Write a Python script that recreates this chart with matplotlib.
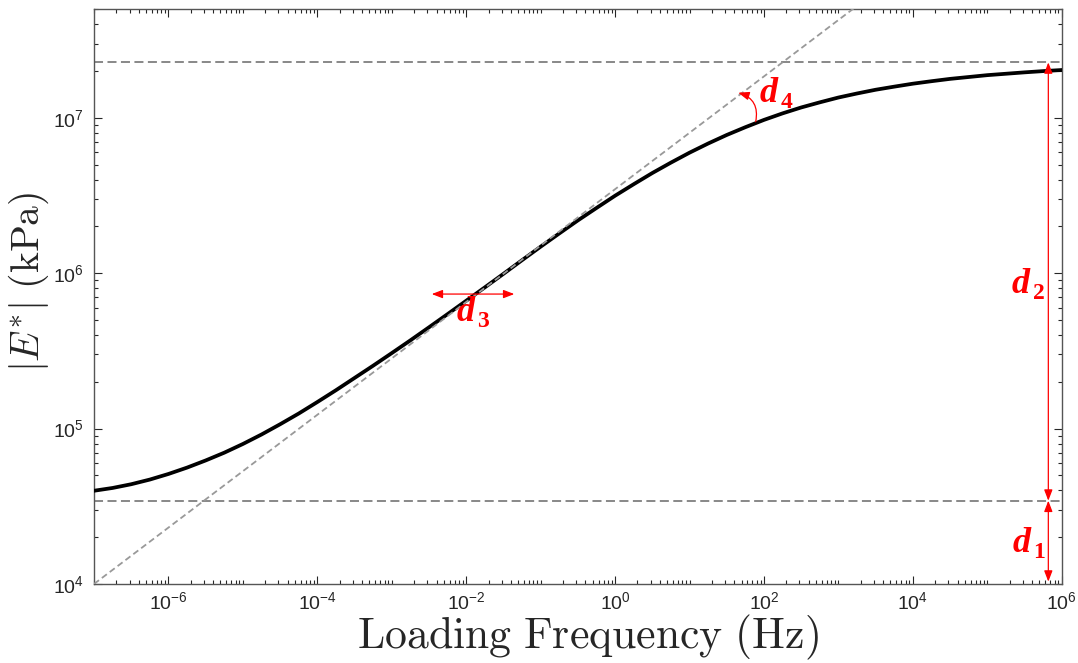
import numpy as np
import matplotlib
matplotlib.use("Agg")
import matplotlib.pyplot as plt
from matplotlib.ticker import FixedLocator, LogLocator, LogFormatterSciNotation, NullFormatter

# ---------------- data ----------------
log_freq = np.linspace(-7.0, 6.0, 53)          # quarter-decade reading grid
log_modulus = [4.600, 4.618, 4.642, 4.672, 4.708, 4.749, 4.795, 4.845, 4.901,
               4.962, 5.028, 5.097, 5.171, 5.247, 5.326, 5.405, 5.486, 5.568,
               5.652, 5.737, 5.823, 5.909, 5.996, 6.084, 6.171, 6.256, 6.340,
               6.420, 6.499, 6.573, 6.645, 6.712, 6.776, 6.835, 6.890, 6.940,
               6.987, 7.029, 7.067, 7.100, 7.131, 7.157, 7.181, 7.201, 7.220,
               7.236, 7.251, 7.263, 7.275, 7.284, 7.293, 7.301, 7.308]
lower_asym = 10 ** 4.536      # d1 level (kPa)
upper_asym = 10 ** 7.357      # d1 + d2 level (kPa)
tangent_f = [1e-7, 1e6]
tangent_E = [1e4, 10 ** (4 + 0.363 * 13)]

x_ticks = [1e-6, 1e-4, 1e-2, 1e0, 1e2, 1e4, 1e6]
y_ticks = [1e4, 1e5, 1e6, 1e7]

d_arrow_f = 10 ** 5.82                        # x of d1/d2 arrows
d1_span = [10 ** 4.536, 10 ** 4.015]
d2_span = [10 ** 4.536, 10 ** 7.357]
d3_span = [10 ** -2.463, 10 ** -1.354]
d3_level = 10 ** 5.866
d4_start = (10 ** 1.889, 10 ** 6.975)
d4_end = (10 ** 1.655, 10 ** 7.162)

# (log f, log E) of the letter d (left, baseline) for each parameter label
label_subs = ["1", "2", "3", "4"]
label_logf = [5.346, 5.332, -2.124, 1.947]
label_logE = [4.206, 5.873, 5.692, 7.102]

# ---------------- styling ----------------
plt.rcParams['font.family'] = ['Liberation Sans', 'DejaVu Sans']
plt.rcParams['mathtext.fontset'] = 'custom'
plt.rcParams['mathtext.rm'] = 'Liberation Sans'
plt.rcParams['mathtext.it'] = 'Liberation Sans:italic'
plt.rcParams['mathtext.bf'] = 'Liberation Sans:bold'
plt.rcParams['lines.scale_dashes'] = False

fig = plt.figure(figsize=(10.78, 6.63), dpi=100)
ax = fig.add_axes([0.0872, 0.1192, 0.8977, 0.8668])
ax.set_xscale('log')
ax.set_yscale('log')
ax.set_xlim(1e-7, 1e6)
ax.set_ylim(1e4, 5e7)

freq = [10 ** v for v in log_freq]
modulus = [10 ** v for v in log_modulus]

ax.axhline(upper_asym, color='#7f7f7f', lw=1.3, dashes=(6.5, 3.2), zorder=2)
ax.axhline(lower_asym, color='#7f7f7f', lw=1.3, dashes=(6.5, 3.2), zorder=2)
ax.plot(freq, modulus, color='black', lw=2.7, zorder=3, solid_joinstyle='round')
ax.plot(tangent_f, tangent_E, color='#999999', lw=1.3, dashes=(4.5, 2.6), zorder=4)

red = '#ff0000'
arrow_kw = dict(arrowstyle='<|-|>,head_length=0.65,head_width=0.25', color=red,
                lw=0.9, shrinkA=0, shrinkB=0)
ax.annotate('', xy=(d_arrow_f, d2_span[1]), xytext=(d_arrow_f, d2_span[0]),
            arrowprops=arrow_kw, zorder=5)
ax.annotate('', xy=(d_arrow_f, d1_span[1]), xytext=(d_arrow_f, d1_span[0]),
            arrowprops=arrow_kw, zorder=5)
ax.annotate('', xy=(d3_span[1], d3_level), xytext=(d3_span[0], d3_level),
            arrowprops=arrow_kw, zorder=5)
ax.annotate('', xy=d4_end, xytext=d4_start,
            arrowprops=dict(arrowstyle='-|>,head_length=0.65,head_width=0.25',
                            color=red, lw=0.9, shrinkA=0, shrinkB=0,
                            connectionstyle='arc3,rad=0.45'), zorder=5)

for sub, lf, le in zip(label_subs, label_logf, label_logE):
    pos = (10 ** lf, 10 ** le)
    ax.text(pos[0], pos[1], 'd', color=red, fontsize=26, fontfamily='Liberation Serif',
            fontweight='bold', fontstyle='italic', ha='left', va='baseline', zorder=6)
    ax.annotate(sub, xy=pos, xytext=(14.8, -4.3), textcoords='offset points',
                color=red, fontsize=17, fontfamily='Liberation Serif',
                fontweight='bold', ha='left', va='baseline', zorder=6)

# axes / ticks
ax.xaxis.set_major_locator(FixedLocator(x_ticks))
ax.yaxis.set_major_locator(FixedLocator(y_ticks))
ax.xaxis.set_minor_locator(LogLocator(base=10, subs=np.arange(1, 10), numticks=100))
ax.yaxis.set_minor_locator(LogLocator(base=10, subs=np.arange(2, 10), numticks=100))
ax.xaxis.set_major_formatter(LogFormatterSciNotation())
ax.yaxis.set_major_formatter(LogFormatterSciNotation())
ax.xaxis.set_minor_formatter(NullFormatter())
ax.yaxis.set_minor_formatter(NullFormatter())
ax.tick_params(which='both', direction='in', top=True, right=True,
               colors='#262626', width=0.8)
ax.tick_params(which='major', length=5.5, labelsize=14)
ax.tick_params(axis='x', which='major', pad=5)
ax.tick_params(axis='y', which='major', pad=7)
ax.tick_params(which='minor', length=3)
for s in ax.spines.values():
    s.set_color('#555555')
    s.set_linewidth(1.0)

ax.set_xlabel(r'$\mathrm{Loading\ Frequency\ (Hz)}$', fontsize=31.5,
              math_fontfamily='cm', labelpad=0, color='#262626')
ax.set_ylabel(r'$|E^{*}|\ \mathrm{(kPa)}$', fontsize=28.5,
              math_fontfamily='cm', labelpad=2, color='#262626')
ax.xaxis.label.set_x(0.5103)
ax.yaxis.label.set_y(0.525)

fig.savefig('out.png', dpi=100)
